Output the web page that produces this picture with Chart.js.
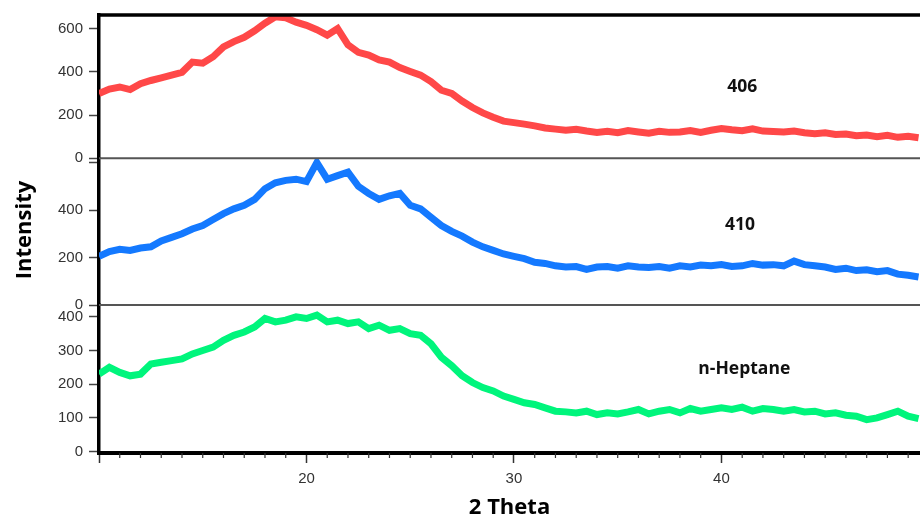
<!DOCTYPE html>
<html>
<head>
<meta charset="utf-8">
<script src="https://cdn.jsdelivr.net/npm/chart.js@4/dist/chart.umd.min.js"></script>
<style>
  html, body { margin: 0; padding: 0; background: #ffffff; overflow: hidden; }
  #wrap { width: 920px; height: 515px; }
</style>
</head>
<body>
<div id="wrap"><canvas id="c" width="920" height="515"></canvas></div>
<script>
// ---- data ----
const theta = [
  10.0,10.5,11.0,11.5,12.0,12.5,13.0,13.5,14.0,14.5,15.0,15.5,16.0,16.5,17.0,17.5,18.0,18.5,19.0,19.5,
  20.0,20.5,21.0,21.5,22.0,22.5,23.0,23.5,24.0,24.5,25.0,25.5,26.0,26.5,27.0,27.5,28.0,28.5,29.0,29.5,
  30.0,30.5,31.0,31.5,32.0,32.5,33.0,33.5,34.0,34.5,35.0,35.5,36.0,36.5,37.0,37.5,38.0,38.5,39.0,39.5,
  40.0,40.5,41.0,41.5,42.0,42.5,43.0,43.5,44.0,44.5,45.0,45.5,46.0,46.5,47.0,47.5,48.0,48.5,49.0,49.5
];
const series406 = [
  300,320,330,318,345,360,372,385,398,445,440,470,515,540,560,590,625,655,650,630,
  615,595,570,600,525,490,478,455,445,420,402,385,355,315,300,265,235,210,190,172,
  165,158,150,140,135,130,134,126,120,125,118,128,122,116,125,120,122,128,120,130,
  138,132,128,136,126,124,122,126,118,114,118,110,112,104,108,100,106,97,102,95
];
const series410 = [
  205,225,235,230,240,245,270,285,300,320,335,360,385,405,420,445,490,515,525,530,
  520,600,530,545,560,500,470,445,460,470,420,405,370,335,310,290,265,245,230,215,
  205,195,180,175,165,160,162,150,160,162,155,165,160,158,162,155,165,160,168,165,
  170,162,165,175,168,170,165,185,170,165,160,150,155,145,148,140,145,130,125,118
];
const seriesHeptane = [
  230,250,235,225,230,260,265,270,275,290,300,310,330,345,355,370,395,385,390,400,
  395,405,385,390,380,385,365,375,360,365,350,345,320,280,255,225,205,190,180,165,
  155,145,140,130,120,118,115,120,110,115,112,118,125,112,120,125,115,128,120,125,
  130,125,132,120,128,125,120,125,118,120,112,115,108,105,95,100,110,120,105,98
];
const seriesNames = ['406', '410', 'n-Heptane'];
const topTicks = [0, 200, 400, 600];
const midTicks = [0, 200, 400, 600];
const botTicks = [0, 100, 200, 300, 400];
const xTicks = [10, 20, 30, 40];
const xLabelled = [20, 30, 40];

// ---- styling / layout (not data) ----
const colors = ['#ff4848', '#1479ff', '#00f57c'];
const labelPos = [
  { axis: 'yTop', x: 41.0, y: 330 },
  { axis: 'yMid', x: 40.9, y: 337 },
  { axis: 'yBot', x: 41.1, y: 245 }
];

function pts(ys) { return theta.map((t, i) => ({ x: t, y: ys[i] })); }

const tickFont = { family: 'Liberation Sans, Arial, sans-serif', size: 15 };
const tickColor = '#333333';

function yAxis(min, max, tickList, weight, stackWeight, hidden) {
  return {
    type: 'linear', position: 'left', stack: 'panels', stackWeight: stackWeight, weight: weight,
    min: min, max: max,
    afterBuildTicks: s => { s.ticks = tickList.map(v => ({ value: v })); },
    ticks: {
      autoSkip: false, padding: 6,
      color: tickColor, font: tickFont,
      callback: v => (hidden.indexOf(v) >= 0 ? '' : String(v))
    },
    grid: { drawOnChartArea: false, drawTicks: true, tickLength: 10, tickColor: '#444', tickWidth: 1.5 },
    border: { color: '#000', width: 3.5 },
    afterFit: s => { s.width = 99; }
  };
}

const deco = {
  id: 'deco',
  afterDraw(chart) {
    const { ctx, chartArea, scales } = chart;
    ctx.save();
    // separators between panels
    ctx.strokeStyle = '#555';
    ctx.lineWidth = 2;
    [scales.yMid.top, scales.yBot.top].forEach(y => {
      ctx.beginPath(); ctx.moveTo(chartArea.left, y); ctx.lineTo(chartArea.right, y); ctx.stroke();
    });
    // top frame line
    ctx.strokeStyle = '#000';
    ctx.lineWidth = 3.5;
    ctx.beginPath(); ctx.moveTo(chartArea.left - 1.75, chartArea.top); ctx.lineTo(chartArea.right, chartArea.top); ctx.stroke();
    // minor x ticks every 1 degree
    const xs = scales.x;
    ctx.strokeStyle = '#333';
    ctx.lineWidth = 1.2;
    for (let v = Math.ceil(xs.min); v <= xs.max; v++) {
      if (v % 10 === 0) continue;
      const px = xs.getPixelForValue(v);
      ctx.beginPath(); ctx.moveTo(px, xs.top); ctx.lineTo(px, xs.top + 5); ctx.stroke();
    }
    // panel labels
    ctx.fillStyle = '#111';
    ctx.font = 'bold 17.5px "Open Sans", "Liberation Sans", sans-serif';
    ctx.textAlign = 'center';
    ctx.textBaseline = 'middle';
    labelPos.forEach((p, i) => {
      ctx.fillText(seriesNames[i], xs.getPixelForValue(p.x), scales[p.axis].getPixelForValue(p.y));
    });
    // axis titles
    ctx.fillStyle = '#000';
    ctx.font = 'bold 22px "Open Sans", "Liberation Sans", sans-serif';
    ctx.textBaseline = 'alphabetic';
    ctx.fillText('2 Theta', (chartArea.left + chartArea.right) / 2, 514);
    ctx.save();
    ctx.translate(31, 230);
    ctx.rotate(-Math.PI / 2);
    ctx.fillText('Intensity', 0, 0);
    ctx.restore();
    ctx.restore();
  }
};

new Chart(document.getElementById('c'), {
  type: 'line',
  data: {
    datasets: [
      { label: seriesNames[0], data: pts(series406), yAxisID: 'yTop', borderColor: colors[0], borderWidth: 7, pointRadius: 0, tension: 0, borderJoinStyle: 'miter' },
      { label: seriesNames[1], data: pts(series410), yAxisID: 'yMid', borderColor: colors[1], borderWidth: 7, pointRadius: 0, tension: 0, borderJoinStyle: 'miter' },
      { label: seriesNames[2], data: pts(seriesHeptane), yAxisID: 'yBot', borderColor: colors[2], borderWidth: 7, pointRadius: 0, tension: 0, borderJoinStyle: 'miter' }
    ]
  },
  options: {
    responsive: false,
    animation: false,
    layout: { padding: { top: 15, right: 0, bottom: 0, left: 0 } },
    plugins: { legend: { display: false }, tooltip: { enabled: false } },
    scales: {
      x: {
        type: 'linear', position: 'bottom', min: 10, max: 49.57,
        afterBuildTicks: s => { s.ticks = xTicks.map(v => ({ value: v })); },
        ticks: {
          autoSkip: false, maxRotation: 0, padding: 7,
          color: tickColor, font: tickFont,
          callback: v => (xLabelled.indexOf(v) >= 0 ? String(v) : '')
        },
        grid: { drawOnChartArea: false, drawTicks: true, tickLength: 10, tickColor: '#333', tickWidth: 1.5 },
        border: { color: '#000', width: 4 },
        afterFit: s => { s.height = 62; }
      },
      yTop: yAxis(0, 663, topTicks, 3, 143.3, []),
      yMid: yAxis(0, 618, midTicks, 2, 146.7, [600]),
      yBot: yAxis(-4, 435, botTicks, 1, 148, [])
    }
  },
  plugins: [deco]
});
</script>
</body>
</html>
